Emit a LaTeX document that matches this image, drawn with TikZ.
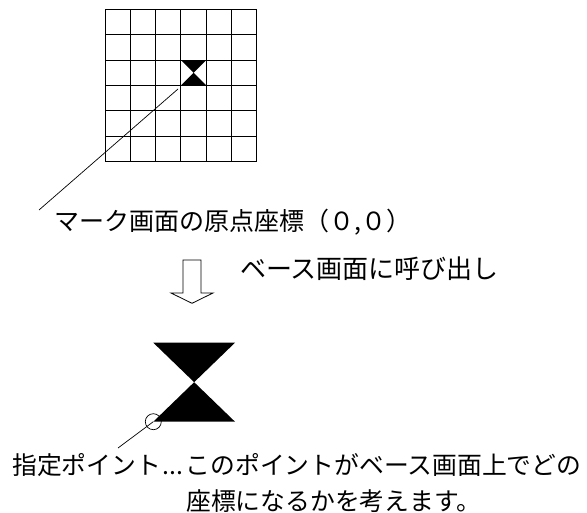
\documentclass[tikz,border=0pt]{standalone}
\usepackage{fontspec}
\setmainfont{Noto Sans CJK JP}
\usetikzlibrary{positioning}

\tikzset{
  note/.style={anchor=west, inner sep=0pt, font=\fontsize{25}{30}\selectfont},
  gridline/.style={line width=0.9pt},
  leader/.style={line width=0.7pt},
}

\begin{document}
\begin{tikzpicture}[x=1pt,y=-1pt]
  \useasboundingbox (0,0) rectangle (587,513);

  % mark screen grid
  \foreach \i in {0,...,6} {
    \draw[gridline] (105+\i*25.28,9.3) -- (105+\i*25.28,161.7);
    \draw[gridline] (105,9.3+\i*25.4) -- (256.7,9.3+\i*25.4);
  }
  \fill (181,60.1) -- (206.3,60.1) -- (181,85.5) -- (206.3,85.5) -- cycle;

  \coordinate (orgtip) at (178,89);
  \coordinate (orgend) at (39,210);
  \draw[leader] (orgtip) -- (orgend);
  \node[note] (orglabel) at (54,222.5) {マーク画面の原点座標（０,０）};

  % call to base screen
  \draw[line width=0.8pt] (183,260) -- (201,260) -- (201,293) -- (213,293)
    -- (192,303.3) -- (171,293) -- (183,293) -- cycle;
  \node[note, font=\fontsize{26}{30}\selectfont] (calllabel) at (240,269)
    {ベース画面に呼び出し};

  % mark on base screen
  \fill (153.3,342.7) -- (235,342.7) -- (153.3,421.7) -- (235,421.7) -- cycle;
  \node[circle, draw, line width=0.7pt, minimum size=16pt, inner sep=0pt]
    (pin) at (153.3,421.7) {};
  \coordinate (pinend) at (118,448);
  \draw[leader] (pin.center) -- (pinend);

  \node[note, font=\fontsize{24.8}{30}\selectfont] (pinlabel) at (12,465)
    {指定ポイント\makebox[1em][s]{\hspace{2pt}.\hfil.\hfil.\hspace{2pt}}このポイントがベース画面上でどの};
  \node[note, font=\fontsize{24.8}{30}\selectfont] (pinlabel2) at (186,501)
    {座標になるかを考えます。};
\end{tikzpicture}
\end{document}
